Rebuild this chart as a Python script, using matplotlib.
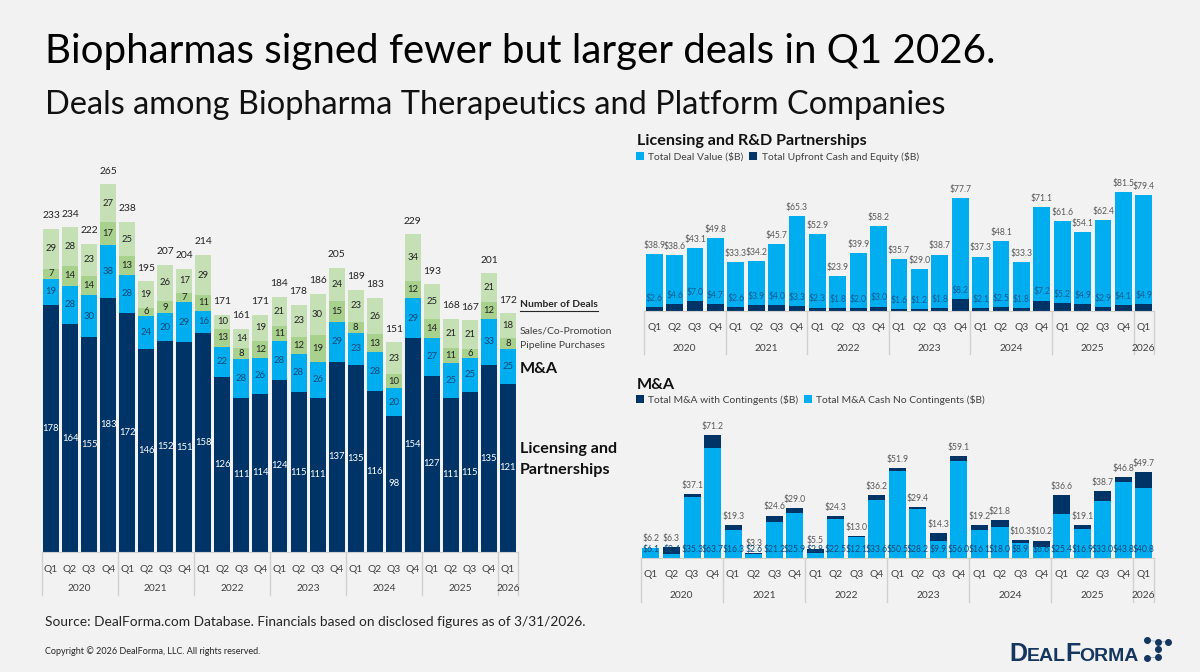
import matplotlib
matplotlib.use("Agg")
import matplotlib.pyplot as plt
from matplotlib.lines import Line2D

plt.rcParams['font.family'] = ['Lato', 'DejaVu Sans']

W, H = 1200, 672
BG = '#F2F2F2'
NAVY = '#003366'
BLUE = '#00AEEF'
GREEN = '#A9D18E'
LIGHT_GREEN = '#C5E0B4'
GRID = '#D0D0D0'
GRAY = '#595959'

quarters = ['Q1', 'Q2', 'Q3', 'Q4'] * 6 + ['Q1']
years = ['2020', '2021', '2022', '2023', '2024', '2025', '2026']
year_spans = [4, 4, 4, 4, 4, 4, 1]

licensing = [178, 164, 155, 183, 172, 146, 152, 151, 158, 126, 111, 114, 124,
             115, 111, 137, 135, 116, 98, 154, 127, 111, 115, 135, 121]
mna = [19, 28, 30, 38, 28, 24, 20, 29, 16, 22, 28, 26, 28,
       28, 26, 29, 23, 28, 20, 29, 27, 25, 25, 33, 25]
pipeline = [7, 14, 14, 17, 13, 6, 9, 7, 11, 13, 8, 12, 11,
            12, 19, 15, 8, 13, 10, 12, 14, 11, 6, 12, 8]
sales = [29, 28, 23, 27, 25, 19, 26, 17, 29, 10, 14, 19, 21,
         23, 30, 24, 23, 26, 23, 34, 25, 21, 21, 21, 18]
deal_totals = [233, 234, 222, 265, 238, 195, 207, 204, 214, 171, 161, 171, 184,
               178, 186, 205, 189, 183, 151, 229, 193, 168, 167, 201, 172]

deal_value = [38.9, 38.6, 43.1, 49.8, 33.3, 34.2, 45.7, 65.3, 52.9, 23.9, 39.9, 58.2, 35.7,
              29.0, 38.7, 77.7, 37.3, 48.1, 33.3, 71.1, 61.6, 54.1, 62.4, 81.5, 79.4]
upfront = [2.6, 4.6, 7.0, 4.7, 2.6, 3.9, 4.0, 3.3, 2.3, 1.8, 2.0, 3.0, 1.6,
           1.2, 1.8, 8.2, 2.1, 2.5, 1.8, 7.2, 5.2, 4.9, 2.9, 4.1, 4.9]

mna_total = [6.2, 6.3, 37.1, 71.2, 19.3, 3.3, 24.6, 29.0, 5.5, 24.3, 13.0, 36.2, 51.9,
             29.4, 14.3, 59.1, 19.2, 21.8, 10.3, 10.2, 36.6, 19.1, 38.7, 46.8, 49.7]
mna_cash = [6.1, 2.4, 35.3, 63.7, 16.3, 2.6, 21.2, 25.9, 2.8, 22.5, 12.1, 33.6, 50.5,
            28.2, 9.9, 56.0, 16.1, 18.0, 8.9, 6.6, 25.4, 16.9, 33.0, 43.8, 40.8]


def px_axes(fig, left, right, top, bottom):
    return fig.add_axes([left / W, 1 - bottom / H, (right - left) / W, (bottom - top) / H])


def setup_axis(ax, px_per_unit, q_off, y_off, sep_len, size):
    # pixel height of the axes decides the y scale
    height = ax.get_position().height * H
    ax.set_xlim(-0.5, 24.5)
    ax.set_ylim(0, height / px_per_unit)
    ax.patch.set_visible(False)
    for s in ['top', 'left', 'right']:
        ax.spines[s].set_visible(False)
    ax.spines['bottom'].set_color(GRID)
    ax.set_yticks([])
    ax.set_xticks(range(25), quarters, fontsize=size, color='#404040')
    ax.tick_params(axis='x', length=0, pad=(q_off - size * 0.5) * 0.72)

    trans = ax.get_xaxis_transform()
    pos = -0.5
    ax.add_line(Line2D([pos, pos], [0, -sep_len / height], transform=trans,
                       color=GRID, lw=1, clip_on=False))
    for year, span in zip(years, year_spans):
        ax.annotate(year, xy=(pos + span / 2, 0), xycoords=trans, xytext=(0, -y_off),
                    textcoords='offset pixels', ha='center', va='center',
                    fontsize=size, color='#404040')
        pos += span
        ax.add_line(Line2D([pos, pos], [0, -sep_len / height], transform=trans,
                           color=GRID, lw=1, clip_on=False))


def fig_text(x, y, s, **kw):
    kw.setdefault('va', 'center')
    return fig.text(x / W, 1 - y / H, s, **kw)


fig = plt.figure(figsize=(12, 6.72), dpi=100, facecolor=BG)

fig_text(45, 52, 'Biopharmas signed fewer but larger deals in Q1 2026.', fontsize=29, color='black')
fig_text(45, 105, 'Deals among Biopharma Therapeutics and Platform Companies', fontsize=23.4, color='#111111')

# number of deals, stacked
ax1 = px_axes(fig, 41.5, 517.5, 170, 551.7)
setup_axis(ax1, 1.386, 16.5, 37, 43, 7.4)
b_lic = ax1.bar(range(25), licensing, width=0.84, color=NAVY)
b_mna = ax1.bar(range(25), mna, width=0.84, bottom=licensing, color=BLUE)
base2 = [a + b for a, b in zip(licensing, mna)]
b_pipe = ax1.bar(range(25), pipeline, width=0.84, bottom=base2, color=GREEN)
base3 = [a + b for a, b in zip(base2, pipeline)]
b_sales = ax1.bar(range(25), sales, width=0.84, bottom=base3, color=LIGHT_GREEN)
ax1.bar_label(b_lic, label_type='center', color='white', fontsize=6.8)
ax1.bar_label(b_mna, label_type='center', color='#0B4A7A', fontsize=6.8)
ax1.bar_label(b_pipe, label_type='center', color='#222222', fontsize=6.8)
ax1.bar_label(b_sales, label_type='center', color='#222222', fontsize=6.8)
ax1.bar_label(b_sales, labels=deal_totals, padding=6.2, color='#222222', fontsize=7.4)

fig_text(520, 304.5, 'Number of Deals', fontsize=7.4, fontweight='bold', color='#262626')
fig.add_artist(Line2D([520 / W, 598 / W], [1 - 311 / H] * 2, color='#262626', lw=0.8))
fig_text(520, 331, 'Sales/Co-Promotion', fontsize=7.5, color='#404040')
fig_text(520, 346, 'Pipeline Purchases', fontsize=7.5, color='#404040')
fig_text(520, 369, 'M&A', fontsize=11.6, fontweight='bold', color='#111111')
fig_text(520, 449, 'Licensing and', fontsize=11.6, fontweight='bold', color='#111111')
fig_text(520, 470, 'Partnerships', fontsize=11.6, fontweight='bold', color='#111111')

# licensing and R&D partnerships
ax2 = px_axes(fig, 644, 1154, 170, 311)
setup_axis(ax2, 1.458, 15.5, 37.5, 43, 7.4)
b_val = ax2.bar(range(25), deal_value, width=0.83, color=BLUE, label='Total Deal Value ($B)')
b_up = ax2.bar(range(25), upfront, width=0.83, color=NAVY, label='Total Upfront Cash and Equity ($B)')
ax2.bar_label(b_val, fmt='${:.1f}', padding=3, color=GRAY, fontsize=6.2)
ax2.bar_label(b_up, fmt='${:.1f}', padding=3, color='#0B5C94', fontsize=6.2)

fig_text(637, 140.5, 'Licensing and R&D Partnerships', fontsize=11.6, fontweight='bold', color='#111111')
ax2.legend(loc='center left', bbox_to_anchor=(636 / W, 1 - 157 / H), bbox_transform=fig.transFigure,
           ncol=2, frameon=False, fontsize=7.4, handlelength=0.8, handleheight=0.8, handletextpad=0.4,
           columnspacing=0.55, borderpad=0, borderaxespad=0, labelcolor='#404040')

# M&A
ax3 = px_axes(fig, 640.7, 1154, 420, 558.3)
setup_axis(ax3, 1.735, 15.5, 37.5, 44, 7.4)
b_tot = ax3.bar(range(25), mna_total, width=0.83, color=NAVY, label='Total M&A with Contingents ($B)')
b_cash = ax3.bar(range(25), mna_cash, width=0.83, color=BLUE, label='Total M&A Cash No Contingents ($B)')
ax3.bar_label(b_tot, fmt='${:.1f}', padding=3, color=GRAY, fontsize=6.2)
for i, v in enumerate(mna_cash):
    ax3.annotate(f'${v:.1f}', xy=(i, 0), xytext=(0, 9), textcoords='offset pixels',
                 ha='center', va='center', color='#0B4A7A', fontsize=6.2)

fig_text(637, 385, 'M&A', fontsize=11.6, fontweight='bold', color='#111111')
ax3.legend(loc='center left', bbox_to_anchor=(636 / W, 1 - 400 / H), bbox_transform=fig.transFigure,
           ncol=2, frameon=False, fontsize=7.4, handlelength=0.8, handleheight=0.8, handletextpad=0.4,
           columnspacing=0.55, borderpad=0, borderaxespad=0, labelcolor='#404040')

fig_text(45, 622, 'Source: DealForma.com Database. Financials based on disclosed figures as of 3/31/2026.',
         fontsize=9.95, color='#262626')
fig_text(45, 651, 'Copyright © 2026 DealForma, LLC. All rights reserved.', fontsize=6.5, color='#262626')

# logo
logo = {'family': ['Liberation Sans'], 'fontweight': 'bold', 'color': '#14365F', 'va': 'baseline'}
fig_text(1009, 661, 'D', fontsize=18, **logo)
fig_text(1027, 661, 'EAL', fontsize=14, **logo)
fig_text(1065, 661, 'F', fontsize=18, **logo)
fig_text(1079, 661, 'ORMA', fontsize=14, **logo)
dots_x = [1146.7, 1158, 1167.7, 1158, 1158, 1146.7]
dots_y = [640, 641.7, 641.7, 649, 657.3, 657.7]
fig.add_artist(Line2D([x / W for x in dots_x[:3]], [1 - y / H for y in dots_y[:3]], color='#9FB6CC', lw=0.7))
fig.add_artist(Line2D([x / W for x in dots_x[1:2] + dots_x[3:5]], [1 - y / H for y in dots_y[1:2] + dots_y[3:5]],
                      color='#9FB6CC', lw=0.7))
fig.add_artist(Line2D([x / W for x in dots_x[4:]], [1 - y / H for y in dots_y[4:]], color='#9FB6CC', lw=0.7))
fig.add_artist(Line2D([x / W for x in dots_x], [1 - y / H for y in dots_y], ls='none', marker='o',
                      ms=4, color='#14365F'))

fig.savefig('out.png', dpi=100, facecolor=BG)
